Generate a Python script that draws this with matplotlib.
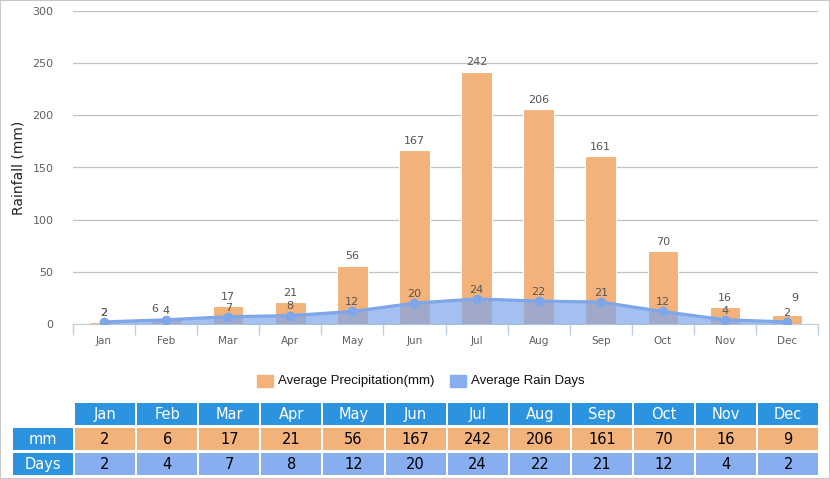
import numpy as np
import matplotlib.pyplot as plt
from matplotlib.patches import Rectangle

months = ["Jan", "Feb", "Mar", "Apr", "May", "Jun", "Jul", "Aug", "Sep", "Oct", "Nov", "Dec"]
rain_mm = [2, 6, 17, 21, 56, 167, 242, 206, 161, 70, 16, 9]
rain_days = [2, 4, 7, 8, 12, 20, 24, 22, 21, 12, 4, 2]

ORANGE = "#f3b27a"
BLUE = "#7da6eb"
HEAD = "#2b93e0"
ROWBLUE = "#86aef0"

W, H = 830, 479
fig = plt.figure(figsize=(W / 100, H / 100), dpi=100)
fig.patches.append(Rectangle((0, 0), 1, 1, transform=fig.transFigure, fill=False,
                             edgecolor="#c8c8c8", linewidth=1.5))

def px_axes(x0, y0, x1, y1):
    # pixel box (top-left origin) -> figure axes
    return fig.add_axes([x0 / W, 1 - y1 / H, (x1 - x0) / W, (y1 - y0) / H])

# ---- main chart
ax = px_axes(73, 11, 818, 324)
x = np.arange(len(months))
ax.bar(x, rain_mm, width=0.49, color=ORANGE, edgecolor="white", linewidth=0.8, zorder=2)
ax.fill_between(x, rain_days, 0, color=BLUE, alpha=0.7, linewidth=0, zorder=3)
ax.plot(x, rain_days, color=BLUE, linewidth=2.3, marker="o", markersize=6, zorder=4)

ax.set_xlim(-0.5, 11.5)
ax.set_ylim(0, 300)
ax.set_yticks(np.arange(0, 301, 50))
ax.yaxis.grid(True, color="#c0c0c0", linewidth=0.9, zorder=0)
ax.set_axisbelow(True)
for s in ["top", "right", "left"]:
    ax.spines[s].set_visible(False)
ax.spines["bottom"].set_color("#c0d0e0")
ax.tick_params(axis="y", length=0, pad=14, labelsize=8, labelcolor="#606060")
ax.set_xticks(x)
ax.set_xticklabels(months, fontsize=7.5, color="#606060")
ax.tick_params(axis="x", length=0, pad=9)
ax.set_xticks(np.arange(-0.5, 12, 1), minor=True)
ax.tick_params(axis="x", which="minor", length=8, color="#c0d0e0", width=1)
ax.set_ylabel("Rainfall (mm)", fontsize=10, color="#222222", labelpad=5)

mm_dx = {1: -0.18, 11: 0.12}
mm_dy = {11: 5}
for i, v in enumerate(rain_mm):
    ax.annotate(str(v), (i + mm_dx.get(i, 0), v), xytext=(0, 3 + mm_dy.get(i, 0)),
                textcoords="offset points", ha="center", va="bottom",
                fontsize=8, color="#555555", zorder=5)
for i, v in enumerate(rain_days):
    ax.annotate(str(v), (i, v), xytext=(0, 3), textcoords="offset points",
                ha="center", va="bottom", fontsize=8, color="#555555", zorder=5)

# ---- legend
lax = px_axes(0, 370, W, 392)
lax.axis("off")
lax.set_xlim(0, W)
lax.set_ylim(0, 22)
lax.add_patch(Rectangle((257, 5), 16, 12, color=ORANGE))
lax.text(278, 11, "Average Precipitation(mm)", va="center", fontsize=9.5,
         family="Liberation Sans", color="#111111")
lax.add_patch(Rectangle((450, 5), 16, 12, color=ROWBLUE))
lax.text(471, 11, "Average Rain Days", va="center", fontsize=9.5,
         family="Liberation Sans", color="#111111")

# ---- data table
tax = px_axes(13, 403, 818, 476)
tax.axis("off")
tax.set_xlim(13, 818)
tax.set_ylim(476, 403)
col_w = (820.2 - 75) / len(months)
rows = [(403, 425), (428, 450), (453, 475)]

def cell(x0, x1, y0, y1, color, text, tcolor):
    tax.add_patch(Rectangle((x0, y0), x1 - x0, y1 - y0, color=color, linewidth=0))
    tax.text((x0 + x1) / 2, (y0 + y1) / 2 + 0.5, text, ha="center", va="center",
             fontsize=10.5, color=tcolor)

for i, m in enumerate(months):
    x0 = 75 + i * col_w
    x1 = x0 + col_w - 2
    cell(x0, x1, *rows[0], HEAD, m, "white")
    cell(x0, x1, *rows[1], ORANGE, str(rain_mm[i]), "black")
    cell(x0, x1, *rows[2], ROWBLUE, str(rain_days[i]), "black")
cell(13, 73, *rows[1], HEAD, "mm", "white")
cell(13, 73, *rows[2], HEAD, "Days", "white")

fig.savefig("out.png", dpi=100)
